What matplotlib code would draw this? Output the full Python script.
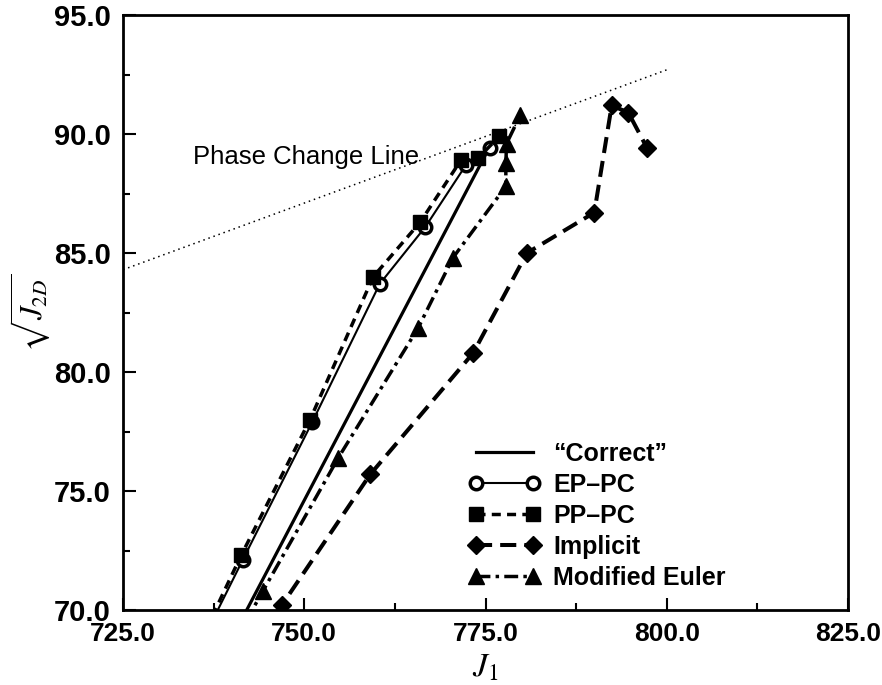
import matplotlib
matplotlib.use('Agg')
import matplotlib.pyplot as plt
from matplotlib.ticker import MultipleLocator, FormatStrFormatter

# Stress paths in (J1, sqrt(J2D)) space for each integration scheme
correct_j1 = [741.2, 775.8]
correct_j2 = [69.5, 89.6]

ep_j1 = [734.8, 741.5, 751.1, 760.4, 766.7, 772.3, 775.6]
ep_j2 = [68.0, 72.1, 77.9, 83.7, 86.1, 88.7, 89.4]

pp_j1 = [734.6, 741.3, 750.8, 759.5, 766.0, 771.6, 774.0, 776.9]
pp_j2 = [68.0, 72.3, 78.0, 84.0, 86.3, 88.9, 89.0, 89.9]

imp_j1 = [744.2, 746.9, 759.1, 773.3, 780.7, 790.0, 792.4, 794.7, 797.3]
imp_j2 = [69.0, 70.2, 75.7, 80.8, 85.0, 86.7, 91.2, 90.9, 89.4]

me_j1 = [741.9, 744.3, 754.7, 765.7, 770.5, 777.8, 777.8, 777.9, 779.8]
me_j2 = [69.5, 70.8, 76.4, 81.85, 84.8, 87.8, 88.8, 89.6, 90.8]

phase_j1 = [725.0, 800.0]
phase_j2 = [84.3, 92.7]

labels = ['\u201cCorrect\u201d', 'EP\u2013PC', 'PP\u2013PC', 'Implicit',
          'Modified Euler']

plt.rcParams['font.family'] = ['Liberation Sans', 'DejaVu Sans']
plt.rcParams['mathtext.fontset'] = 'stix'

fig = plt.figure(figsize=(8.82, 6.85), dpi=100)
ax = fig.add_axes([0.1395, 0.1095, 0.822, 0.8685])

ax.plot(phase_j1, phase_j2, color='black', lw=1.1, ls=(0, (1, 2.5)))
ax.text(734.7, 88.75, 'Phase Change Line', fontsize=18.5, va='baseline')

ax.plot(correct_j1, correct_j2, color='black', lw=2.3, label=labels[0])
ax.plot(ep_j1, ep_j2, color='black', lw=1.5, marker='o', ms=9,
        mfc='white', mec='black', mew=2.5, label=labels[1])
ax.plot(pp_j1, pp_j2, color='black', lw=2.5, ls=(0, (2.6, 1.8)),
        marker='s', ms=10, label=labels[2])
ax.plot(imp_j1, imp_j2, color='black', lw=2.9, ls=(0, (4, 2)),
        marker='D', ms=9.5, label=labels[3])
ax.plot(me_j1, me_j2, color='black', lw=2.5, ls=(0, (4, 1.5, 1, 1.5)),
        marker='^', ms=12, label=labels[4])

ax.set_xlim(725, 825)
ax.set_ylim(70, 95)
ax.xaxis.set_major_locator(MultipleLocator(25))
ax.xaxis.set_minor_locator(MultipleLocator(12.5))
ax.yaxis.set_major_locator(MultipleLocator(5))
ax.yaxis.set_minor_locator(MultipleLocator(2.5))
ax.xaxis.set_major_formatter(FormatStrFormatter('%.1f'))
ax.yaxis.set_major_formatter(FormatStrFormatter('%.1f'))

ax.tick_params(which='both', direction='in', width=1.5)
ax.tick_params(which='major', length=9, pad=9)
ax.tick_params(which='minor', length=5)
for s in ax.spines.values():
    s.set_linewidth(2)

for t in ax.get_yticklabels():
    t.set_fontsize(21)
    t.set_fontweight('bold')
for t in ax.get_xticklabels():
    t.set_fontsize(19)
    t.set_fontweight('bold')

ax.set_xlabel('$J_1$', fontsize=24, labelpad=4)
ax.set_ylabel(r'$\sqrt{J_{2D}}$', fontsize=22, labelpad=1)

leg = ax.legend(loc='upper left', bbox_to_anchor=(0.476, 0.283),
                frameon=False, numpoints=2, handlelength=2.9,
                handletextpad=0.5, labelspacing=0.28, borderpad=0,
                borderaxespad=0, prop={'size': 18, 'weight': 'bold'})

fig.savefig('out.png', dpi=100)
